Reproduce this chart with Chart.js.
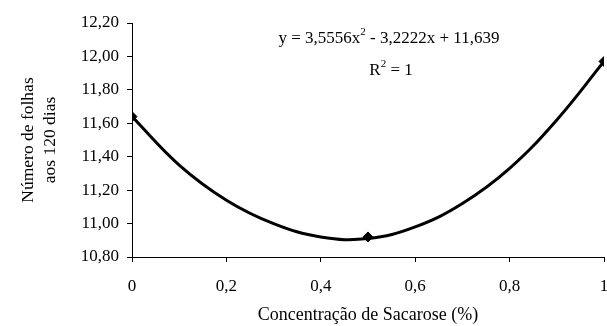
<!DOCTYPE html>
<html lang="pt">
<head>
    <meta charset="UTF-8">
    <title>Número de folhas aos 120 dias</title>
    <style>
        html, body { margin: 0; padding: 0; background: #fff; }
        #wrap { width: 607px; height: 326px; }
    </style>
</head>
<body>
    <div id="wrap"><canvas id="chart" width="607" height="326"></canvas></div>

    <script src="https://cdn.jsdelivr.net/npm/chart.js"></script>
    <script>
        // observed means
        const obsX = [0, 0.5, 1];
        const obsY = [11.64, 10.92, 11.97];

        // trend line, values
        const curveX = [0, 0.1, 0.2, 0.3, 0.4, 0.5, 0.6, 0.7, 0.8, 0.9, 1];
        const curveY = [11.64, 11.35, 11.14, 11.00, 10.92, 10.91, 10.98, 11.12, 11.33, 11.62, 11.97];

        const xTicks = [0, 0.2, 0.4, 0.6, 0.8, 1];
        const yTicks = [10.8, 11.0, 11.2, 11.4, 11.6, 11.8, 12.0, 12.2];

        const yTitle = ['Número de folhas', 'aos 120 dias'];
        const equation = ['y = 3,5556x', '2', ' - 3,2222x + 11,639'];
        const rSquared = ['R', '2', ' = 1'];

        const font = "'Liberation Serif', 'Times New Roman', serif";

        // draws text with a superscript piece, centered on x
        function drawSup(ctx, parts, cx, y) {
            const big = '17px ' + font, small = '11px ' + font;
            ctx.font = big;
            const w0 = ctx.measureText(parts[0]).width;
            const w2 = ctx.measureText(parts[2]).width;
            ctx.font = small;
            const w1 = ctx.measureText(parts[1]).width;
            let x = cx - (w0 + w1 + w2) / 2;
            ctx.textBaseline = 'alphabetic';
            ctx.textAlign = 'left';
            ctx.fillStyle = '#000';
            ctx.font = big;
            ctx.fillText(parts[0], x, y);
            x += w0;
            ctx.font = small;
            ctx.fillText(parts[1], x, y - 8);
            x += w1;
            ctx.font = big;
            ctx.fillText(parts[2], x, y);
        }

        const labelPlugin = {
            id: 'eqLabel',
            afterDraw(chart) {
                const ctx = chart.ctx;
                const a = chart.chartArea;
                ctx.save();
                drawSup(ctx, equation, 389, 43);
                drawSup(ctx, rSquared, 391, 75);
                // y axis title, two lines
                ctx.font = '17.5px ' + font;
                ctx.fillStyle = '#000';
                ctx.textAlign = 'center';
                ctx.textBaseline = 'middle';
                const cy = (a.top + a.bottom) / 2;
                [28, 50].forEach((lx, i) => {
                    ctx.save();
                    ctx.translate(lx, cy);
                    ctx.rotate(-Math.PI / 2);
                    ctx.fillText(yTitle[i], 0, 0);
                    ctx.restore();
                });
                ctx.restore();
            }
        };

        const comma = v => String(+v.toFixed(2)).replace('.', ',');

        new Chart(document.getElementById('chart'), {
            type: 'scatter',
            data: {
                datasets: [{
                    data: curveX.map((x, i) => ({ x: x, y: curveY[i] })),
                    showLine: true,
                    borderColor: '#000',
                    borderWidth: 3,
                    tension: 0.4,
                    pointRadius: 0
                }, {
                    data: obsX.map((x, i) => ({ x: x, y: obsY[i] })),
                    showLine: false,
                    pointStyle: 'rectRot',
                    pointRadius: 5,
                    backgroundColor: '#000',
                    borderColor: '#000'
                }]
            },
            options: {
                responsive: false,
                animation: false,
                layout: { autoPadding: false, padding: { top: 23, right: 3, left: 0, bottom: 0 } },
                plugins: { legend: { display: false }, tooltip: { enabled: false } },
                scales: {
                    x: {
                        type: 'linear',
                        min: 0, max: 1,
                        afterBuildTicks: s => { s.ticks = xTicks.map(v => ({ value: v })); },
                        ticks: {
                            color: '#000',
                            font: { family: font, size: 17 },
                            padding: 14,
                            maxRotation: 0,
                            callback: v => comma(v)
                        },
                        grid: { drawOnChartArea: false, drawTicks: true, tickLength: 5, color: '#000' },
                        border: { display: true, color: '#000', width: 1 },
                        title: {
                            display: true,
                            text: 'Concentração de Sacarose (%)',
                            color: '#000',
                            font: { family: font, size: 18 },
                            padding: { top: 4, bottom: 0 }
                        },
                        afterFit: s => { s.height = 69; s.paddingLeft = 0; s.paddingRight = 0; }
                    },
                    y: {
                        min: 10.8, max: 12.2,
                        afterBuildTicks: s => { s.ticks = yTicks.map(v => ({ value: v })); },
                        ticks: {
                            color: '#000',
                            font: { family: font, size: 17 },
                            padding: 8,
                            callback: v => v.toFixed(2).replace('.', ',')
                        },
                        grid: { drawOnChartArea: false, drawTicks: true, tickLength: 5, color: '#000' },
                        border: { display: true, color: '#000', width: 1 },
                        title: { display: false },
                        afterFit: s => { s.width = 132; s.paddingTop = 0; s.paddingBottom = 0; }
                    }
                }
            },
            plugins: [labelPlugin]
        });
    </script>
</body>
</html>
